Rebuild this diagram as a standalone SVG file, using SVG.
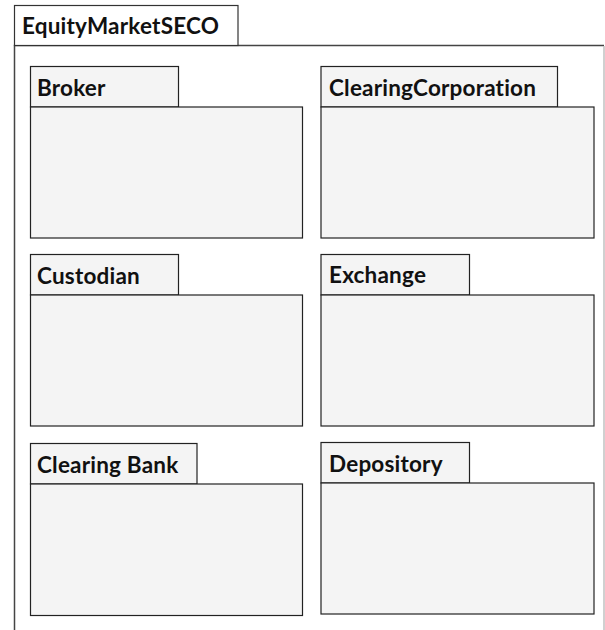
<svg xmlns="http://www.w3.org/2000/svg" width="605" height="630" viewBox="0 0 605 630">
<style>
.pkg rect{fill:#f4f4f4;stroke:#222;stroke-width:1.2}
.lbl{font-family:Lato,"Liberation Sans",sans-serif;font-weight:bold;font-size:22.5px;fill:#111;letter-spacing:0.2px}
</style>
<rect x="0" y="0" width="605" height="630" fill="#fff"/>
<g id="EquityMarketSECO">
<path d="M14.5,630 V45.5 H604" fill="none" stroke="#444" stroke-width="1.5"/>
<line x1="604" y1="46" x2="604" y2="630" stroke="#c0c0c0" stroke-width="1.5"/>
<rect x="14.5" y="5.5" width="223.5" height="40" fill="#fff" stroke="#333" stroke-width="1.2"/>
<text class="lbl" x="22" y="33.5">EquityMarketSECO</text>
</g>
<g id="Broker" class="pkg">
<rect x="30.5" y="66.5" width="148" height="40.5"/>
<rect x="30.5" y="107" width="272" height="131"/>
<text class="lbl" x="37" y="95.5">Broker</text>
</g>
<g id="ClearingCorporation" class="pkg">
<rect x="321" y="66.5" width="236.5" height="40.5"/>
<rect x="321" y="107" width="273" height="131"/>
<text class="lbl" x="329" y="95.5">ClearingCorporation</text>
</g>
<g id="Custodian" class="pkg">
<rect x="30.5" y="254.5" width="148" height="40.5"/>
<rect x="30.5" y="295" width="272" height="131"/>
<text class="lbl" x="37" y="283.5">Custodian</text>
</g>
<g id="Exchange" class="pkg">
<rect x="321" y="254.5" width="148.5" height="40.5"/>
<rect x="321" y="295" width="273" height="131"/>
<text class="lbl" x="329" y="282.5">Exchange</text>
</g>
<g id="ClearingBank" class="pkg">
<rect x="30.5" y="443.5" width="166.5" height="40.5"/>
<rect x="30.5" y="484" width="272" height="131.5"/>
<text class="lbl" x="37" y="473">Clearing Bank</text>
</g>
<g id="Depository" class="pkg">
<rect x="321" y="442.5" width="148.5" height="40.5"/>
<rect x="321" y="483" width="273" height="131"/>
<text class="lbl" x="329" y="472">Depository</text>
</g>
<g id="connectors"/>
</svg>
